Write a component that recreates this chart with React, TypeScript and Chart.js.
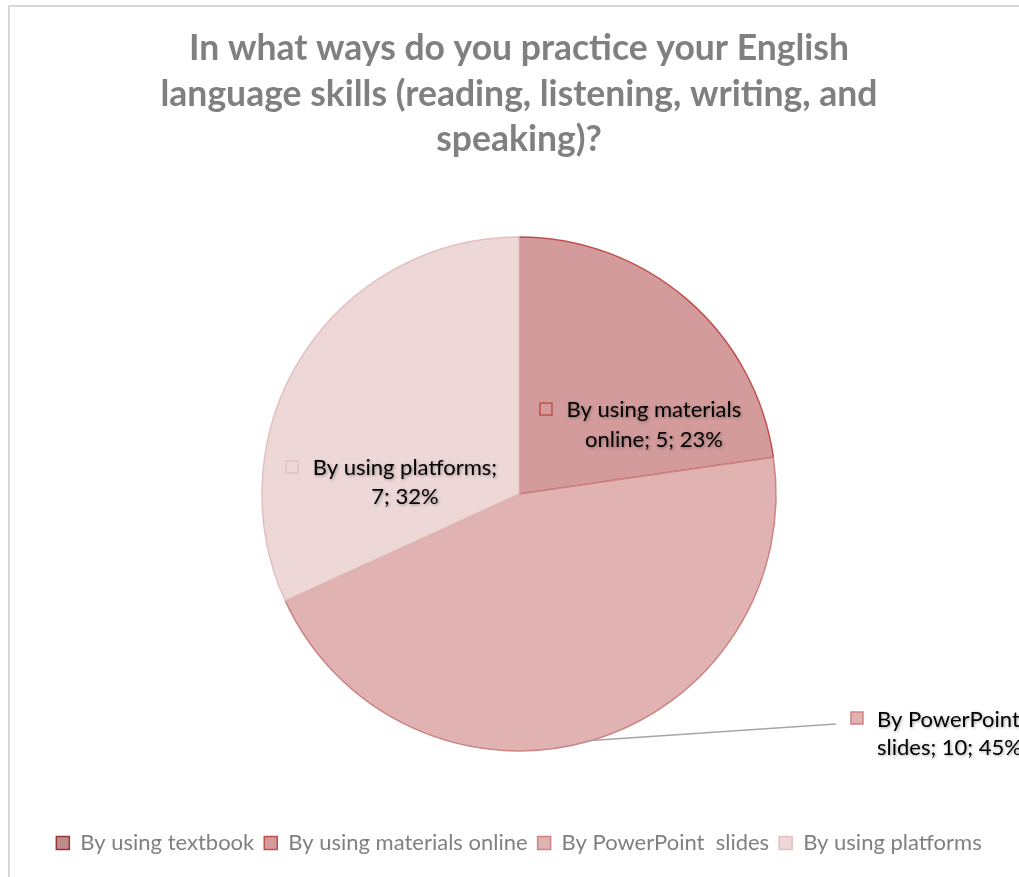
import React, { useEffect, useRef } from "react";
import { Chart, registerables } from "chart.js";
Chart.register(...registerables);

const titleLines = [
  "In what ways do you practice your English",
  "language skills (reading, listening, writing, and",
  "speaking)?",
];
const categories = [
  "By using textbook",
  "By using materials online",
  "By PowerPoint  slides",
  "By using platforms",
];
const values = [0, 5, 10, 7];
const fills = ["#c08b8b", "#d39b9b", "#e0b2b2", "#edd7d7"];
const borders = ["#953735", "#c0504d", "#cd8383", "#e3c0c0"];

const total = values.reduce((a, b) => a + b, 0);
const pct = values.map((v) => Math.round((v / total) * 100));
const labelLines: string[][] = [
  [],
  ["By using materials", `online; ${values[1]}; ${pct[1]}%`],
  ["By PowerPoint", `slides; ${values[2]}; ${pct[2]}%`],
  ["By using platforms;", `${values[3]}; ${pct[3]}%`],
];

const FONT = "Lato, 'Open Sans', sans-serif";

// label layout, expressed in units of the pie radius relative to its centre
const labelLayout = [
  null,
  { mx: 0.105, my: -0.33, tx: 0.525, ty: -0.327, lh: 0.117, align: "center", leader: false },
  { mx: 1.315, my: 0.872, tx: 1.393, ty: 0.88, lh: 0.109, align: "left", leader: true, lx: 1.233, ly: 0.895 },
  { mx: -0.883, my: -0.105, tx: -0.444, ty: -0.101, lh: 0.113, align: "center", leader: false },
];

const framePlugin = {
  id: "frame",
  beforeDraw(chart: any) {
    const ctx = chart.ctx;
    ctx.save();
    ctx.fillStyle = "#ffffff";
    ctx.fillRect(0, 0, chart.width, chart.height);
    ctx.strokeStyle = "#d9d9d9";
    ctx.lineWidth = 2;
    ctx.strokeRect(9, 6, chart.width + 50, chart.height + 50);
    ctx.restore();
  },
};

const labelPlugin = {
  id: "sliceLabels",
  afterDatasetsDraw(chart: any) {
    const ctx = chart.ctx;
    const meta = chart.getDatasetMeta(0);
    meta.data.forEach((arc: any, i: number) => {
      const lay = labelLayout[i];
      if (!lay || !values[i]) return;
      const r = arc.outerRadius;
      const cx = arc.x;
      const cy = arc.y;
      ctx.save();
      if (lay.leader) {
        const mid = (arc.startAngle + arc.endAngle) / 2;
        ctx.strokeStyle = "#a6a6a6";
        ctx.lineWidth = 1.5;
        ctx.beginPath();
        ctx.moveTo(cx + Math.cos(mid) * r, cy + Math.sin(mid) * r);
        ctx.lineTo(cx + lay.lx * r, cy + lay.ly * r);
        ctx.stroke();
      }
      // marker
      const s = 12;
      const mx = cx + lay.mx * r;
      const my = cy + lay.my * r;
      ctx.fillStyle = fills[i];
      ctx.strokeStyle = borders[i];
      ctx.lineWidth = 1.5;
      ctx.fillRect(mx - s / 2, my - s / 2, s, s);
      ctx.strokeRect(mx - s / 2, my - s / 2, s, s);
      // text
      ctx.font = `22px ${FONT}`;
      ctx.fillStyle = "#000000";
      ctx.textBaseline = "middle";
      ctx.textAlign = lay.align;
      ctx.shadowColor = "rgba(0,0,0,0.35)";
      ctx.shadowBlur = 3;
      ctx.shadowOffsetX = 1;
      ctx.shadowOffsetY = 1;
      labelLines[i].forEach((line, k) => {
        ctx.fillText(line, cx + lay.tx * r, cy + (lay.ty + k * lay.lh) * r);
      });
      ctx.restore();
    });
  },
};

export default function App() {
  const ref = useRef<HTMLCanvasElement | null>(null);
  useEffect(() => {
    if (!ref.current) return;
    const chart = new Chart(ref.current, {
      type: "pie",
      data: {
        labels: categories,
        datasets: [
          {
            data: values,
            backgroundColor: fills,
            borderColor: borders,
            borderWidth: 1.5,
            radius: 257,
          },
        ],
      },
      options: {
        responsive: false,
        animation: false,
        rotation: 0,
        layout: { padding: { left: 19, right: 0, top: 0, bottom: 13 } },
        plugins: {
          title: {
            display: true,
            text: titleLines,
            color: "#808080",
            font: { family: FONT, size: 35.5, weight: "bold", lineHeight: 1.28 },
            padding: { top: 26, bottom: 3.5 },
          },
          legend: {
            display: true,
            position: "bottom",
            labels: {
              color: "#808080",
              font: { family: FONT, size: 22 },
              boxWidth: 13,
              boxHeight: 13,
              padding: 10,
            },
          },
          tooltip: { enabled: false },
        },
      },
      plugins: [framePlugin, labelPlugin],
    });
    return () => chart.destroy();
  }, []);
  return (
    <div style={{ position: "fixed", left: 0, top: 0, width: 1019, height: 877, background: "#fff" }}>
      <canvas ref={ref} width={1019} height={877} style={{ width: 1019, height: 877, display: "block" }} />
    </div>
  );
}
